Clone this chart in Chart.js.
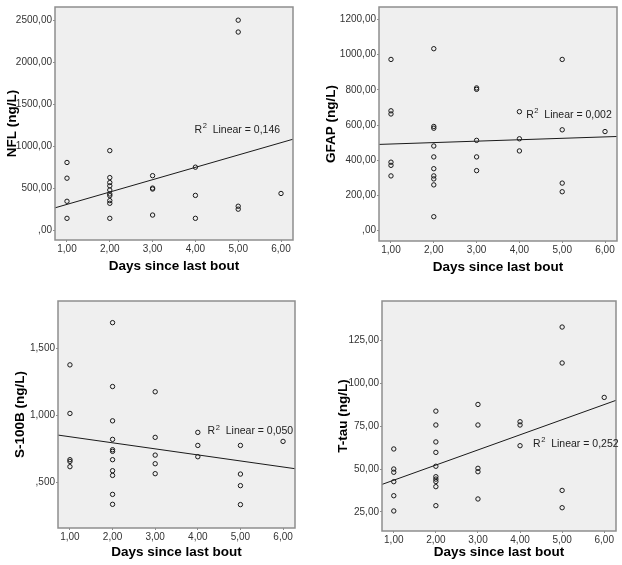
<!DOCTYPE html>
<html>
<head>
<meta charset="utf-8">
<script src="https://cdn.jsdelivr.net/npm/chart.js@4.4.1/dist/chart.umd.min.js"></script>
<style>
  html, body { margin: 0; padding: 0; background: #fff; }
  #wrap { position: relative; width: 622px; height: 565px; }
  canvas { position: absolute; }
</style>
</head>
<body>
<div id="wrap">
  <canvas id="nfl" width="311" height="280" style="left:0;top:0"></canvas>
  <canvas id="gfap" width="311" height="280" style="left:311px;top:0"></canvas>
  <canvas id="s100b" width="311" height="280" style="left:0;top:285px"></canvas>
  <canvas id="ttau" width="311" height="280" style="left:311px;top:285px"></canvas>
</div>
<script>
// x axis (shared)
const days = [1, 2, 3, 4, 5, 6];
const dayLabels = ['1,00', '2,00', '3,00', '4,00', '5,00', '6,00'];
const fitX = [0.72, 6.28];

// NFL
const nflDays = [1,1,1,1, 2,2,2,2,2,2,2,2,2,2, 3,3,3,3, 4,4,4, 5,5,5,5, 6];
const nflValues = [806,619,344,141, 947,626,567,528,478,431,411,352,320,141, 649,501,490,180, 750,414,141, 2500,2359,285,250, 437];
const nflFit = [266, 1083];
const nflTicks = [0, 500, 1000, 1500, 2000, 2500];
const nflTickLabels = [',00', '500,00', '1000,00', '1500,00', '2000,00', '2500,00'];

// GFAP
const gfapDays = [1,1,1,1,1,1, 2,2,2,2,2,2,2,2,2,2, 3,3,3,3,3, 4,4,4, 5,5,5,5, 6];
const gfapValues = [973,681,663,389,371,311, 1034,592,582,481,419,352,311,294,260,79, 811,803,513,419,341, 676,522,453, 973,573,270,221, 563];
const gfapFit = [490, 535];
const gfapTicks = [0, 200, 400, 600, 800, 1000, 1200];
const gfapTickLabels = [',00', '200,00', '400,00', '600,00', '800,00', '1000,00', '1200,00'];

// S-100B
const s100bDays = [1,1,1,1,1, 2,2,2,2,2,2,2,2,2,2,2, 3,3,3,3,3, 4,4,4, 5,5,5,5, 6];
const s100bValues = [1.376,1.015,0.671,0.658,0.619, 1.69,1.215,0.96,0.822,0.745,0.733,0.671,0.589,0.554,0.413,0.339, 1.176,0.837,0.705,0.641,0.567, 0.874,0.777,0.693, 0.777,0.564,0.478,0.337, 0.807];
const s100bFit = [0.854, 0.604];
const s100bTicks = [0.5, 1.0, 1.5];
const s100bTickLabels = [',500', '1,000', '1,500'];

// T-tau
const ttauDays = [1,1,1,1,1,1, 2,2,2,2,2,2,2,2,2,2, 3,3,3,3,3, 4,4,4, 5,5,5,5, 6];
const ttauValues = [61.8,50.1,48.2,42.7,34.5,25.6, 83.9,75.8,65.9,59.8,51.7,45.6,44.2,42.8,39.8,28.7, 87.8,75.8,50.5,48.5,32.6, 77.7,75.8,63.7, 133,112,37.6,27.5, 91.9];
const ttauFit = [41.1, 90.2];
const ttauTicks = [25, 50, 75, 100, 125];
const ttauTickLabels = ['25,00', '50,00', '75,00', '100,00', '125,00'];

const FONT = '"Liberation Sans", Arial, sans-serif';

// plot background, frame and the R² label
const spssPlugin = {
  id: 'spss',
  beforeDatasetsDraw(chart) {
    const a = chart.chartArea, ctx = chart.ctx;
    ctx.save();
    ctx.fillStyle = '#efefef';
    ctx.fillRect(a.left, a.top, a.right - a.left, a.bottom - a.top);
    ctx.restore();
  },
  afterDatasetsDraw(chart) {
    const a = chart.chartArea, ctx = chart.ctx;
    const r2 = chart.options.plugins.spss;
    ctx.save();
    ctx.strokeStyle = '#8e8e8e';
    ctx.lineWidth = 1.5;
    ctx.strokeRect(a.left, a.top, a.right - a.left, a.bottom - a.top);
    const px = chart.scales.x.getPixelForValue(r2.x);
    const py = chart.scales.y.getPixelForValue(r2.y);
    ctx.fillStyle = '#222';
    ctx.textBaseline = 'middle';
    ctx.font = '10.5px ' + FONT;
    ctx.fillText('R', px, py);
    let w = ctx.measureText('R').width;
    ctx.font = '7.5px ' + FONT;
    ctx.fillText('2', px + w + 0.5, py - 3.5);
    w += ctx.measureText('2').width + 0.5;
    ctx.font = '10.5px ' + FONT;
    ctx.fillText('  Linear = ' + r2.value, px + w, py);
    ctx.restore();
  }
};

function makeChart(id, cfg) {
  const W = 311, H = 280;
  const box = cfg.box;
  const points = cfg.xs.map((x, i) => ({ x: x, y: cfg.ys[i] }));
  const line = fitX.map((x, i) => ({ x: x, y: cfg.fit[i] }));
  new Chart(document.getElementById(id), {
    type: 'scatter',
    data: {
      datasets: [
        {
          data: points,
          pointStyle: 'circle',
          pointRadius: 2.2,
          pointBorderWidth: 1,
          pointBorderColor: '#1a1a1a',
          pointBackgroundColor: 'rgba(0,0,0,0)'
        },
        {
          type: 'line',
          data: line,
          borderColor: '#1a1a1a',
          borderWidth: 1,
          pointRadius: 0,
          fill: false
        }
      ]
    },
    options: {
      responsive: false,
      animation: false,
      devicePixelRatio: 1,
      layout: { padding: { top: box.top, right: W - box.right, left: 0, bottom: 0 } },
      plugins: {
        legend: { display: false },
        tooltip: { enabled: false },
        spss: cfg.r2
      },
      scales: {
        x: {
          type: 'linear',
          min: fitX[0],
          max: fitX[1],
          afterBuildTicks: (s) => { s.ticks = days.map(v => ({ value: v })); },
          afterFit: (s) => { s.height = H - box.bottom; },
          ticks: {
            autoSkip: false,
            maxRotation: 0,
            padding: 1,
            color: '#333',
            font: { family: FONT, size: 10 },
            callback: (v, i) => dayLabels[i]
          },
          grid: { drawOnChartArea: false, drawTicks: true, tickLength: 2, color: '#8e8e8e' },
          border: { display: false },
          title: {
            display: true,
            text: 'Days since last bout',
            color: '#000',
            font: { family: FONT, size: 13.5, weight: 'bold' },
            padding: { top: 0, bottom: cfg.xTitlePad }
          }
        },
        y: {
          type: 'linear',
          min: cfg.yMin,
          max: cfg.yMax,
          afterBuildTicks: (s) => { s.ticks = cfg.yTicks.map(v => ({ value: v })); },
          afterFit: (s) => { s.width = box.left; },
          ticks: {
            padding: 1,
            color: '#333',
            font: { family: FONT, size: 10 },
            callback: (v, i) => cfg.yTickLabels[i]
          },
          grid: { drawOnChartArea: false, drawTicks: true, tickLength: 2, color: '#8e8e8e' },
          border: { display: false },
          title: {
            display: true,
            text: cfg.yTitle,
            color: '#000',
            font: { family: FONT, size: 13.5, weight: 'bold' },
            padding: { top: cfg.yTitlePad, bottom: 0 }
          }
        }
      }
    },
    plugins: [spssPlugin]
  });
}

makeChart('nfl', {
  xs: nflDays, ys: nflValues, fit: nflFit,
  yMin: -117, yMax: 2657, yTicks: nflTicks, yTickLabels: nflTickLabels,
  yTitle: 'NFL (ng/L)', yTitlePad: 4, xTitlePad: 6,
  box: { left: 55, right: 293, top: 3, bottom: 240 },
  r2: { x: 3.98, y: 1197, value: '0,146' }
});
makeChart('gfap', {
  xs: gfapDays, ys: gfapValues, fit: gfapFit,
  yMin: -59, yMax: 1271, yTicks: gfapTicks, yTickLabels: gfapTickLabels,
  yTitle: 'GFAP (ng/L)', yTitlePad: 12, xTitlePad: 5,
  box: { left: 68, right: 307, top: 3, bottom: 241 },
  r2: { x: 4.16, y: 659, value: '0,002' }
});
makeChart('s100b', {
  xs: s100bDays, ys: s100bValues, fit: s100bFit,
  yMin: 0.163, yMax: 1.851, yTicks: s100bTicks, yTickLabels: s100bTickLabels,
  yTitle: 'S-100B (ng/L)', yTitlePad: 12, xTitlePad: 5,
  box: { left: 58, right: 295, top: 16, bottom: 243 },
  r2: { x: 4.23, y: 0.881, value: '0,050' }
});
makeChart('ttau', {
  xs: ttauDays, ys: ttauValues, fit: ttauFit,
  yMin: 13.9, yMax: 148.2, yTicks: ttauTicks, yTickLabels: ttauTickLabels,
  yTitle: 'T-tau (ng/L)', yTitlePad: 24, xTitlePad: 5,
  box: { left: 71, right: 305, top: 16, bottom: 246 },
  r2: { x: 4.31, y: 64.9, value: '0,252' }
});
</script>
</body>
</html>
